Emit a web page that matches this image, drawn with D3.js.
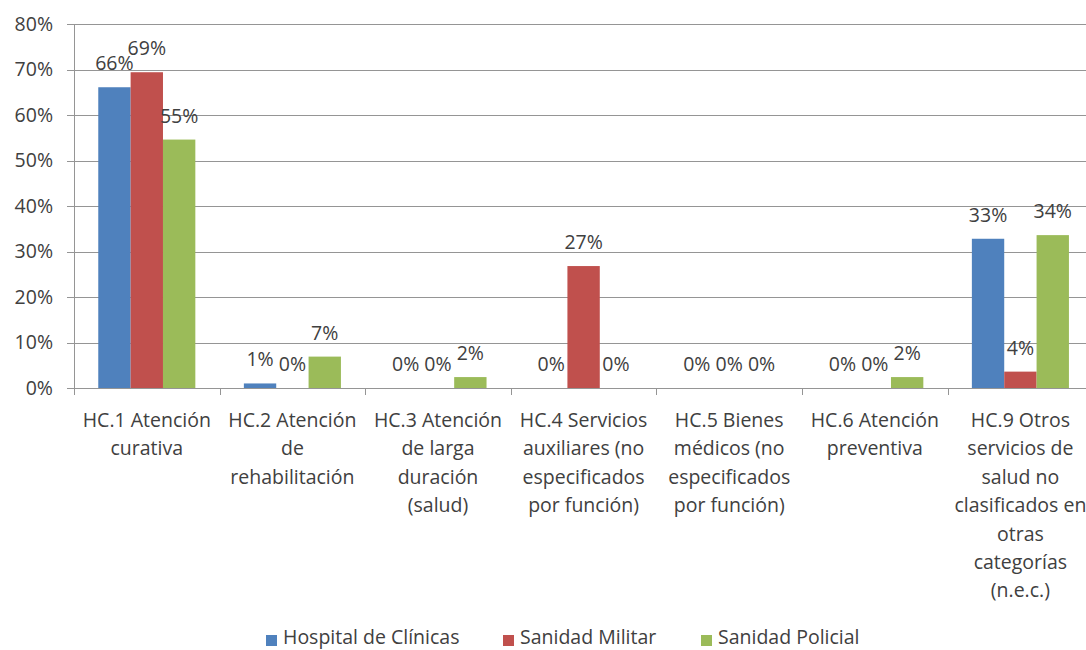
<!DOCTYPE html>
<html>
<head>
<meta charset="utf-8">
<script src="https://cdnjs.cloudflare.com/ajax/libs/d3/7.8.5/d3.min.js"></script>
<style>
  body { margin: 0; background: #fff; }
  svg { display: block; font-family: 'Open Sans', 'Noto Sans', sans-serif; }
</style>
</head>
<body>
<svg id="chart" width="1086" height="650"></svg>
<script>
// categories, one entry per line of the wrapped tick label
const categories = [
  ['HC.1 Atención', 'curativa'],
  ['HC.2 Atención', 'de', 'rehabilitación'],
  ['HC.3 Atención', 'de larga', 'duración', '(salud)'],
  ['HC.4 Servicios', 'auxiliares (no', 'especificados', 'por función)'],
  ['HC.5 Bienes', 'médicos (no', 'especificados', 'por función)'],
  ['HC.6 Atención', 'preventiva'],
  ['HC.9 Otros', 'servicios de', 'salud no', 'clasificados en', 'otras', 'categorías', '(n.e.c.)']
];
const seriesNames = ['Hospital de Clínicas', 'Sanidad Militar', 'Sanidad Policial'];
const hospitalClinicas = [66.1, 1.0, 0, 0, 0, 0, 32.8];
const sanidadMilitar = [69.4, 0, 0, 26.8, 0, 0, 3.6];
const sanidadPolicial = [54.6, 6.9, 2.4, 0, 0, 2.4, 33.6];
const yTicks = [0, 10, 20, 30, 40, 50, 60, 70, 80];

const colors = ['#4F81BD', '#C0504D', '#9BBB59'];
const allSeries = [hospitalClinicas, sanidadMilitar, sanidadPolicial];

const svg = d3.select('#chart');
const plotLeft = 74, plotTop = 24, plotBottom = 388;
const bandW = 145.6;
const plotRight = plotLeft + bandW * categories.length;
const fontSize = 19.5;

const x = d3.scaleBand()
  .domain(d3.range(categories.length))
  .range([plotLeft, plotRight])
  .paddingInner(0)
  .paddingOuter(0);

// gap width 150% -> each bar is 1/4.5 of the band
const barW = x.bandwidth() / 4.5;
const x1 = d3.scaleBand()
  .domain(d3.range(3))
  .range([barW * 0.75, barW * 3.75]);

const y = d3.scaleLinear().domain([0, 80]).range([plotBottom, plotTop]);

const textColor = '#404040';
const gridColor = '#959595';

// gridlines
svg.append('g')
  .selectAll('line')
  .data(yTicks)
  .enter()
  .append('line')
  .attr('x1', plotLeft - 7)
  .attr('x2', plotRight)
  .attr('y1', (d) => Math.round(y(d)) + 0.5)
  .attr('y2', (d) => Math.round(y(d)) + 0.5)
  .attr('stroke', gridColor)
  .attr('stroke-width', 1);

// y axis line
svg.append('line')
  .attr('x1', plotLeft + 0.5)
  .attr('x2', plotLeft + 0.5)
  .attr('y1', plotTop)
  .attr('y2', plotBottom)
  .attr('stroke', gridColor);

// y tick labels
svg.append('g')
  .selectAll('text')
  .data(yTicks)
  .enter()
  .append('text')
  .attr('x', plotLeft - 21)
  .attr('y', (d) => y(d))
  .attr('dy', '0.35em')
  .attr('text-anchor', 'end')
  .attr('font-size', fontSize)
  .attr('fill', textColor)
  .text((d) => d + '%');

// x category tick marks
svg.append('g')
  .selectAll('line')
  .data(d3.range(categories.length + 1))
  .enter()
  .append('line')
  .attr('x1', (i) => Math.round(plotLeft + i * bandW) + 0.5)
  .attr('x2', (i) => Math.round(plotLeft + i * bandW) + 0.5)
  .attr('y1', plotBottom)
  .attr('y2', plotBottom + 7)
  .attr('stroke', gridColor);

// bars
const groups = svg.append('g')
  .selectAll('g')
  .data(allSeries)
  .enter()
  .append('g')
  .attr('fill', (d, i) => colors[i]);

groups.each(function (values, si) {
  d3.select(this)
    .selectAll('rect')
    .data(values)
    .enter()
    .append('rect')
    .attr('x', (d, ci) => x(ci) + x1(si))
    .attr('y', (d) => y(d))
    .attr('width', x1.bandwidth())
    .attr('height', (d) => plotBottom - y(d));
});

// data labels
groups.each(function (values, si) {
  d3.select(this)
    .selectAll('text')
    .data(values)
    .enter()
    .append('text')
    .attr('x', (d, ci) => x(ci) + x1(si) + x1.bandwidth() / 2)
    .attr('y', (d) => y(d) - 17)
    .attr('text-anchor', 'middle')
    .attr('font-size', fontSize)
    .attr('fill', textColor)
    .text((d) => Math.round(d) + '%');
});

// x labels
svg.append('g')
  .selectAll('text')
  .data(categories)
  .enter()
  .append('text')
  .attr('text-anchor', 'middle')
  .attr('font-size', fontSize)
  .attr('fill', textColor)
  .each(function (lines, ci) {
    d3.select(this)
      .selectAll('tspan')
      .data(lines)
      .enter()
      .append('tspan')
      .attr('x', x(ci) + x.bandwidth() / 2)
      .attr('y', (d, li) => 427 + li * 28.4)
      .text((d) => d);
  });

// legend
const legendX = [266, 503, 701];
const legend = svg.append('g')
  .selectAll('g')
  .data(seriesNames)
  .enter()
  .append('g')
  .attr('transform', (d, i) => `translate(${legendX[i]},0)`);

legend.append('rect')
  .attr('x', 0)
  .attr('y', 635)
  .attr('width', 11)
  .attr('height', 11)
  .attr('fill', (d, i) => colors[i]);

legend.append('text')
  .attr('x', 17)
  .attr('y', 644)
  .attr('font-size', fontSize)
  .attr('fill', textColor)
  .text((d) => d);
</script>
</body>
</html>
